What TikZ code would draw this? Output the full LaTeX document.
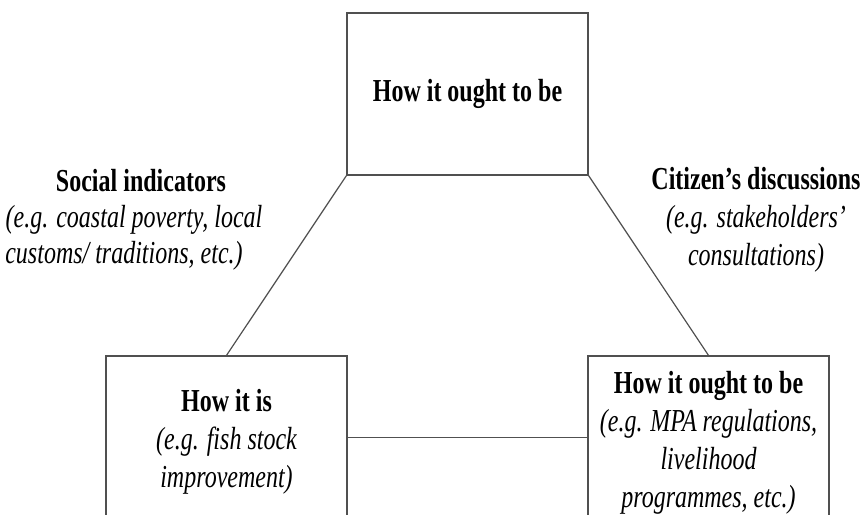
\documentclass[tikz,border=0pt]{standalone}
\usepackage{fontspec}
\setmainfont{Liberation Serif}[FakeStretch=0.75]
\definecolor{linec}{RGB}{80,80,80}
\begin{document}
\begin{tikzpicture}[x=1pt,y=-1pt,
  box/.style={draw=linec, line width=1.2pt, minimum width=241pt, align=center, inner sep=0pt, font=\fontsize{32}{38}\selectfont},
  lab/.style={align=center, inner sep=0pt},
  conn/.style={draw=linec, line width=1.2pt}]
\useasboundingbox (0,0) rectangle (867,514);
\clip (0,0) rectangle (867,514);
\node[box, minimum height=162pt] (top) at (467.5,94) {\bfseries How it ought to be};
\node[box, minimum height=171pt] (bl) at (226.5,441.5) {{\bfseries How it is}\\{\itshape (e.g. fish stock}\\{\itshape improvement)}};
\node[box, minimum height=174pt] (br) at (708.5,443) {{\bfseries How it ought to be}\\{\itshape (e.g. MPA regulations,}\\{\itshape livelihood}\\{\itshape programmes, etc.)}};
\node[lab, font=\fontsize{32}{36}\selectfont] (soc) at (134,219.5) {\rule{14pt}{0pt}{\bfseries Social indicators}\\{\itshape (e.g. coastal poverty, local}\\{\itshape customs/ traditions, etc.)}\rule{20pt}{0pt}};
\node[lab, font=\fontsize{32}{38}\selectfont] (cit) at (756,219.5) {{\bfseries Citizen’s discussions}\\{\itshape (e.g. stakeholders’}\\{\itshape consultations)}};
\draw[conn] (top.south west) -- (bl.north);
\draw[conn] (top.south east) -- (br.north);
\coordinate (hy) at (0,437.5);
\draw[conn] (bl.east |- hy) -- (br.west |- hy);
\end{tikzpicture}
\end{document}
